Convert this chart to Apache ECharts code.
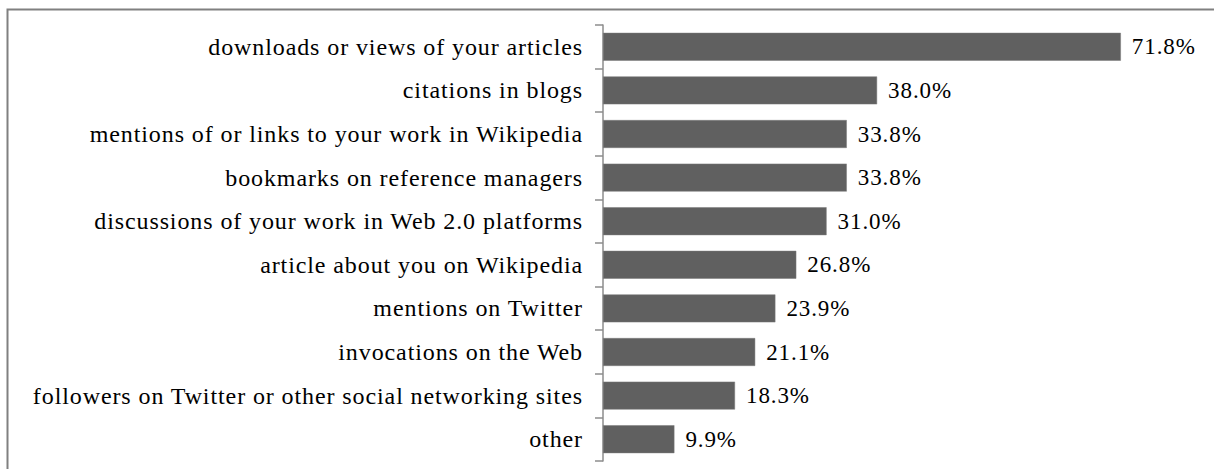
<!DOCTYPE html>
<html>
<head>
<meta charset="utf-8">
<script src="https://cdn.jsdelivr.net/npm/echarts@6/dist/echarts.min.js"></script>
<style>
html,body{margin:0;padding:0;background:#fff;}
#c{width:1214px;height:469px;}
#c text{letter-spacing:0.9px;}
</style>
</head>
<body>
<div id="c"></div>
<script>
const categories = [
  "downloads or views of your articles",
  "citations in blogs",
  "mentions of or links to your work in Wikipedia",
  "bookmarks on reference managers",
  "discussions of your work in Web 2.0 platforms",
  "article about you on Wikipedia",
  "mentions on Twitter",
  "invocations on the Web",
  "followers on Twitter or other social networking sites",
  "other"
];
const values = [71.8, 38.0, 33.8, 33.8, 31.0, 26.8, 23.9, 21.1, 18.3, 9.9];

const chart = echarts.init(document.getElementById('c'), null, {renderer: 'svg'});
chart.setOption({
  animation: false,
  graphic: [{
    type: 'rect',
    shape: {x: 7.5, y: 9.5, width: 1400, height: 600},
    style: {fill: 'none', stroke: '#808080', lineWidth: 2},
    silent: true
  }],
  grid: {left: 603, right: 34, top: 25, bottom: 8},
  xAxis: {type: 'value', min: 0, max: 80, show: false},
  yAxis: {
    type: 'category',
    data: categories,
    inverse: true,
    axisLine: {lineStyle: {color: '#8c8c8c', width: 1.5}},
    axisTick: {show: true, length: 8, lineStyle: {color: '#8c8c8c', width: 1.5}},
    axisLabel: {fontFamily: 'Liberation Serif', fontSize: 24, color: '#000', margin: 20}
  },
  series: [{
    type: 'bar',
    data: values,
    barCategoryGap: '36%',
    itemStyle: {color: '#606060', borderColor: '#7a7a7a', borderWidth: 0.5},
    label: {
      show: true, position: 'right', distance: 11,
      fontFamily: 'Liberation Serif', fontSize: 23, color: '#000',
      formatter: p => p.value.toFixed(1) + '%'
    }
  }]
});
</script>
</body>
</html>
